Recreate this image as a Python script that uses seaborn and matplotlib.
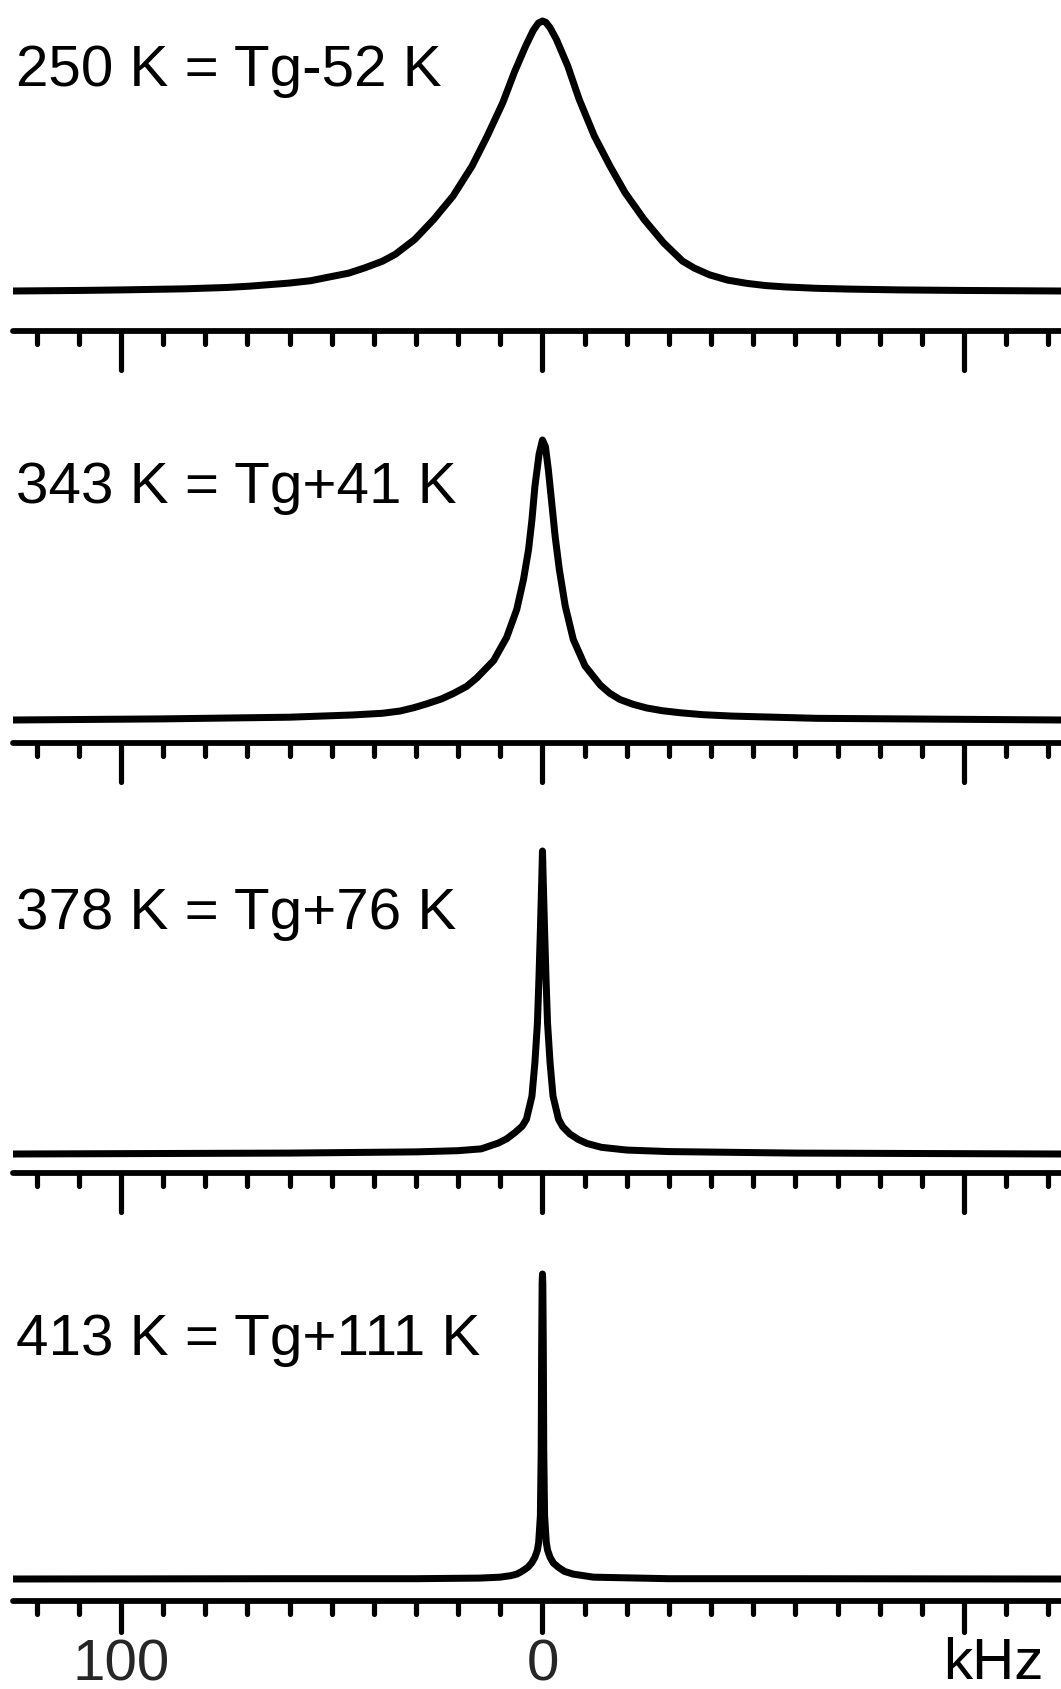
import matplotlib
matplotlib.use("Agg")
import matplotlib.pyplot as plt
from matplotlib import font_manager as fm
from matplotlib.markers import MarkerStyle, TICKDOWN
import seaborn as sns
import pandas as pd

# ---------------- data ----------------
labels = ["250 K = Tg-52 K", "343 K = Tg+41 K", "378 K = Tg+76 K", "413 K = Tg+111 K"]

f1 = [125.6, 110, 100, 85, 75, 69.4, 60.3, 55, 51.2, 46, 42.1, 38, 34.9, 30.3, 25.8, 21.2, 16.7, 13.1, 9.4, 6.7,
      4.0, 2.2, 1.0, 0.0, -0.8, -1.8, -3.3, -6.0, -8.7, -12.3, -16.0, -19.6, -24.1, -28.7, -33.2, -36, -39.6,
      -44, -48.6, -53, -57.7, -65, -73.0, -85, -100, -123]
i1 = [0.0, 0.002, 0.004, 0.008, 0.013, 0.018, 0.029, 0.038, 0.050, 0.066, 0.086, 0.110, 0.136, 0.191, 0.265, 0.352, 0.463, 0.574, 0.698, 0.809,
      0.907, 0.965, 0.992, 1.0, 0.995, 0.975, 0.932, 0.833, 0.710, 0.574, 0.463, 0.364, 0.265, 0.179, 0.111, 0.085, 0.060,
      0.040, 0.028, 0.020, 0.015, 0.010, 0.007, 0.004, 0.002, 0.0]

f2 = [125.6, 90, 60, 45, 38, 33.8, 30.5, 27.4, 24, 21.1, 18, 15.6, 11.6, 8.5, 6.1, 4.5, 3.3, 2.5, 1.8, 0.8, 0.0,
      -0.7, -1.4, -2.2, -3.0, -4.0, -5.4, -7.3, -10.1, -13.7, -16, -18.4, -21.5, -24.7, -28.5, -32.6, -38, -45, -65, -123]
i2 = [0.0, 0.004, 0.010, 0.018, 0.024, 0.032, 0.044, 0.058, 0.075, 0.095, 0.120, 0.150, 0.212, 0.295, 0.395, 0.502, 0.609, 0.715, 0.834, 0.950, 1.0,
      0.976, 0.893, 0.775, 0.656, 0.537, 0.407, 0.288, 0.193, 0.125, 0.095, 0.073, 0.056, 0.043, 0.033, 0.026, 0.019, 0.014, 0.006, 0.0]

f3 = [125.6, 60, 30, 20, 14.5, 10.5, 8.5, 6.5, 4.8, 3.8, 2.5, 1.8, 1.2, 0.85, 0.5, 0.2, 0.0,
      -0.2, -0.5, -0.85, -1.2, -1.8, -2.5, -3.8, -4.8, -6.5, -8.5, -10.5, -14.0, -20, -30, -60, -123]
i3 = [0.0, 0.003, 0.007, 0.011, 0.017, 0.036, 0.050, 0.071, 0.092, 0.115, 0.191, 0.301, 0.432, 0.574, 0.738, 0.891, 1.0,
      0.891, 0.738, 0.574, 0.432, 0.301, 0.191, 0.115, 0.090, 0.066, 0.048, 0.035, 0.022, 0.013, 0.008, 0.003, 0.0]

f4 = [125.6, 60, 30, 14.8, 10.1, 7.5, 6.1, 5.0, 3.5, 2.6, 1.8, 1.2, 0.9, 0.5, 0.3, 0.2, 0.08, 0.0,
      -0.08, -0.2, -0.3, -0.5, -0.9, -1.2, -1.8, -2.6, -3.8, -5.2, -7.3, -12.1, -30, -60, -123]
i4 = [0.0, 0.001, 0.001, 0.003, 0.006, 0.011, 0.016, 0.024, 0.038, 0.052, 0.071, 0.095, 0.12, 0.207, 0.425, 0.752, 0.97, 1.0,
      0.97, 0.752, 0.425, 0.207, 0.12, 0.095, 0.071, 0.052, 0.038, 0.025, 0.016, 0.006, 0.001, 0.001, 0.0]

major_ticks = [100, 0, -100]
major_labels = ["100", "0", ""]
minor_ticks = list(range(120, -130, -10))
unit_label = "kHz"

# ---------------- layout (pixels in a 1061x1690 canvas) ----------------
W, H = 1061, 1690
XLIM = (125.6, -123.0)
# axis-line y, baseline y, peak y, top of axes, label baseline y, major tick length
layout = [
    (332, 292, 22, 0, 86, 41),
    (744, 721, 441, 385, 503, 41),
    (1174, 1155, 852, 800, 929, 41),
    (1602, 1580, 1275, 1220, 1355, 33),
]

sns.set_theme(style="white")
names = {f.name for f in fm.fontManager.ttflist}
narrow = "Liberation Sans Narrow" if "Liberation Sans Narrow" in names else "Liberation Sans"
plt.rcParams["font.family"] = ["Liberation Sans", "DejaVu Sans"]

fig = plt.figure(figsize=(W / 100, H / 100), dpi=100)
fig.patch.set_facecolor("white")

series = [(f1, i1), (f2, i2), (f3, i3), (f4, i4)]
px = 72 / 100.0  # points per pixel
axes = []

for k, ((fx, iy), (ax_y, base_y, peak_y, top_y, lab_y, tlen)) in enumerate(zip(series, layout)):
    amp = base_y - peak_y
    ax = fig.add_axes([13 / W, 1 - ax_y / H, 1 - 13 / W, (ax_y - top_y) / H])
    axes.append(ax)
    ax.set_facecolor("none")
    df = pd.DataFrame({"freq": fx, "intensity": iy})
    sns.lineplot(data=df, x="freq", y="intensity", ax=ax, color="black",
                 linewidth=7 * px, sort=False, estimator=None)
    for ln in ax.get_lines():
        ln.set_solid_joinstyle("round")
        ln.set_solid_capstyle("round")
    ax.set_xlim(*XLIM)
    ax.set_ylim(-(ax_y - base_y) / amp, (base_y - top_y) / amp)
    for s in ("top", "left", "right"):
        ax.spines[s].set_visible(False)
    ax.spines["bottom"].set_linewidth(5.8 * px)
    ax.spines["bottom"].set_color("black")
    ax.spines["bottom"].set_capstyle("round")
    ax.set_yticks([])
    ax.set_xlabel("")
    ax.set_ylabel("")
    ax.set_xticks(major_ticks)
    ax.set_xticks(minor_ticks, minor=True)
    ax.tick_params(axis="x", which="major", direction="out", length=(tlen - 2.5) * px,
                   width=5.2 * px, color="black", bottom=True,
                   pad=(4 if k == 3 else 0))
    ax.tick_params(axis="x", which="minor", direction="out", length=13 * px,
                   width=5.2 * px, color="black", bottom=True)
    if k == 3:
        ax.set_xticklabels(major_labels, fontsize=42, family=[narrow, "DejaVu Sans"])
    else:
        ax.set_xticklabels([])
    fig.text(16 / W, 1 - lab_y / H, labels[k], fontsize=42, va="baseline", ha="left",
             color="black", family=["Liberation Sans", "DejaVu Sans"])

fig.text(993 / W, 1 - 1679 / H, unit_label, fontsize=42, va="baseline", ha="center",
         color="black", family=[narrow, "DejaVu Sans"])

# rounded tick ends, like the reference
try:
    for ax in axes:
        for ln in ax.xaxis.get_ticklines() + ax.xaxis.get_ticklines(minor=True):
            if ln.get_marker() == TICKDOWN:
                ln.set_marker(MarkerStyle(TICKDOWN, capstyle="round"))
except Exception:
    pass

fig.savefig("out.png", dpi=100, facecolor="white")
